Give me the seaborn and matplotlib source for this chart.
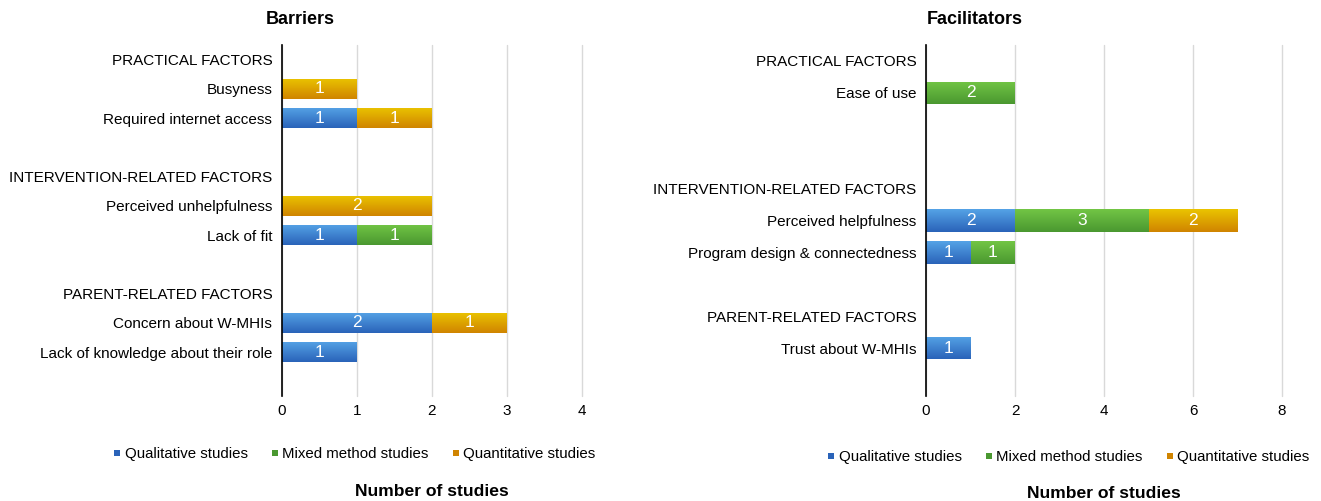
import numpy as np
import pandas as pd
import matplotlib
matplotlib.use("Agg")
import matplotlib.pyplot as plt
from matplotlib.colors import LinearSegmentedColormap
from matplotlib.lines import Line2D
import seaborn as sns

sns.set_theme(style="white")
plt.rcParams["font.family"] = ["Liberation Sans", "DejaVu Sans"]
plt.rcParams.update({"text.color": "black", "axes.labelcolor": "black",
                     "xtick.color": "black", "ytick.color": "black"})

# ---- data -------------------------------------------------------------
study_types = ["Qualitative studies", "Mixed method studies", "Quantitative studies"]

barrier_rows = ["PRACTICAL FACTORS", "Busyness", "Required internet access", " ",
                "INTERVENTION-RELATED FACTORS", "Perceived unhelpfulness", "Lack of fit", "  ",
                "PARENT-RELATED FACTORS", "Concern about W-MHIs",
                "Lack of knowledge about their role", "   "]
barrier_items = ["Busyness", "Required internet access", "Perceived unhelpfulness",
                 "Lack of fit", "Concern about W-MHIs", "Lack of knowledge about their role"]
barrier_qual = [0, 1, 0, 1, 2, 1]
barrier_mixed = [0, 0, 0, 1, 0, 0]
barrier_quant = [1, 1, 2, 0, 1, 0]

facil_rows = ["PRACTICAL FACTORS", "Ease of use", " ", "  ",
              "INTERVENTION-RELATED FACTORS", "Perceived helpfulness",
              "Program design & connectedness", "   ",
              "PARENT-RELATED FACTORS", "Trust about W-MHIs", "    "]
facil_items = ["Ease of use", "Perceived helpfulness",
               "Program design & connectedness", "Trust about W-MHIs"]
facil_qual = [0, 2, 1, 1]
facil_mixed = [2, 3, 1, 0]
facil_quant = [0, 2, 0, 0]

# top / bottom colours of the shaded bars
gradients = {
    "Qualitative studies": ("#55a3e6", "#2a63b9"),
    "Mixed method studies": ("#72c545", "#4a9830"),
    "Quantitative studies": ("#eac400", "#d08400"),
}
legend_colors = {k: v[1] for k, v in gradients.items()}


def shade_patches(ax, patches, top, bottom):
    cmap = LinearSegmentedColormap.from_list("bar", [top, bottom])
    grad = np.linspace(0, 1, 64).reshape(-1, 1)
    for p in patches:
        w, h = p.get_width(), p.get_height()
        if w <= 0:
            continue
        x0, y0 = p.get_x(), p.get_y()
        im = ax.imshow(grad, cmap=cmap, extent=[x0, x0 + w, y0 + h, y0],
                       origin="upper", aspect="auto", zorder=p.get_zorder(),
                       interpolation="bilinear")
        im.set_clip_path(p)


def draw_panel(ax, rows, items, qual, mixed, quant, xmax, xticks):
    df = pd.DataFrame({"item": items, "qual": qual, "mixed": mixed, "quant": quant})
    df["lvl_qual"] = df["qual"]
    df["lvl_mixed"] = df["qual"] + df["mixed"]
    df["lvl_total"] = df["qual"] + df["mixed"] + df["quant"]

    layers = [("lvl_total", "Quantitative studies"),
              ("lvl_mixed", "Mixed method studies"),
              ("lvl_qual", "Qualitative studies")]
    for col, name in layers:
        n_before = len(ax.patches)
        sns.barplot(data=df, x=col, y="item", order=rows, orient="h", ax=ax,
                    color=gradients[name][1], width=0.7, linewidth=0,
                    saturation=1, errorbar=None, zorder=2)
        new = ax.patches[n_before:]
        shade_patches(ax, new, *gradients[name])

    # value labels in the middle of each segment
    for _, r in df.iterrows():
        ypos = rows.index(r["item"])
        start = 0
        for v in (r["qual"], r["mixed"], r["quant"]):
            if v > 0:
                ax.text(start + v / 2, ypos, f"{v:g}", color="white",
                        ha="center", va="center", fontsize=12.5, zorder=5)
            start += v

    ax.set_xlim(0, xmax)
    ax.set_ylim(len(rows) - 0.5, -0.5)
    ax.set_xticks(xticks)
    ax.set_xlabel("")
    ax.set_ylabel("")
    ax.grid(axis="x", color="#d9d9d9", linewidth=1, zorder=0)
    ax.grid(axis="y", visible=False)
    for gl in ax.get_xgridlines():
        gl.set_clip_on(False)
    ax.set_axisbelow(True)
    for s in ["top", "right", "bottom"]:
        ax.spines[s].set_visible(False)
    ax.spines["left"].set_color("black")
    ax.spines["left"].set_linewidth(1.2)
    ax.spines["left"].set_zorder(6)
    ax.tick_params(axis="y", length=0, pad=7, labelsize=11, colors="black")
    ax.tick_params(axis="x", length=0, pad=6, labelsize=11, colors="black")


W, H = 1321, 501
fig = plt.figure(figsize=(W / 100, H / 100), dpi=100)

ax1 = fig.add_axes([282 / W, 1 - 396 / H, 300 / W, 351 / H])
ax2 = fig.add_axes([926 / W, 1 - 396 / H, 356 / W, 351 / H])

draw_panel(ax1, barrier_rows, barrier_items, barrier_qual, barrier_mixed,
           barrier_quant, 4, [0, 1, 2, 3, 4])
draw_panel(ax2, facil_rows, facil_items, facil_qual, facil_mixed,
           facil_quant, 8, [0, 2, 4, 6, 8])

fig.text(300 / W, 1 - 20 / H, "Barriers", ha="center", va="center",
         fontsize=13, fontweight="bold")
fig.text(975 / W, 1 - 20 / H, "Facilitators", ha="center", va="center",
         fontsize=13, fontweight="bold")
fig.text(432 / W, 1 - 491 / H, "Number of studies", ha="center", va="center",
         fontsize=12.6, fontweight="bold")
fig.text(1104 / W, 1 - 493 / H, "Number of studies", ha="center", va="center",
         fontsize=12.6, fontweight="bold")

handles = [Line2D([0], [0], marker="s", linestyle="none", markersize=5,
                  markerfacecolor=legend_colors[t], markeredgewidth=0)
           for t in study_types]
for cx, cy in [(354 / W, 1 - 454 / H), (1068 / W, 1 - 457 / H)]:
    fig.legend(handles, study_types, loc="center", bbox_to_anchor=(cx, cy),
               ncol=3, frameon=False, fontsize=10.8, handlelength=0.6,
               handletextpad=0.2, columnspacing=1.5, borderaxespad=0)

fig.savefig("out.png", dpi=100)
